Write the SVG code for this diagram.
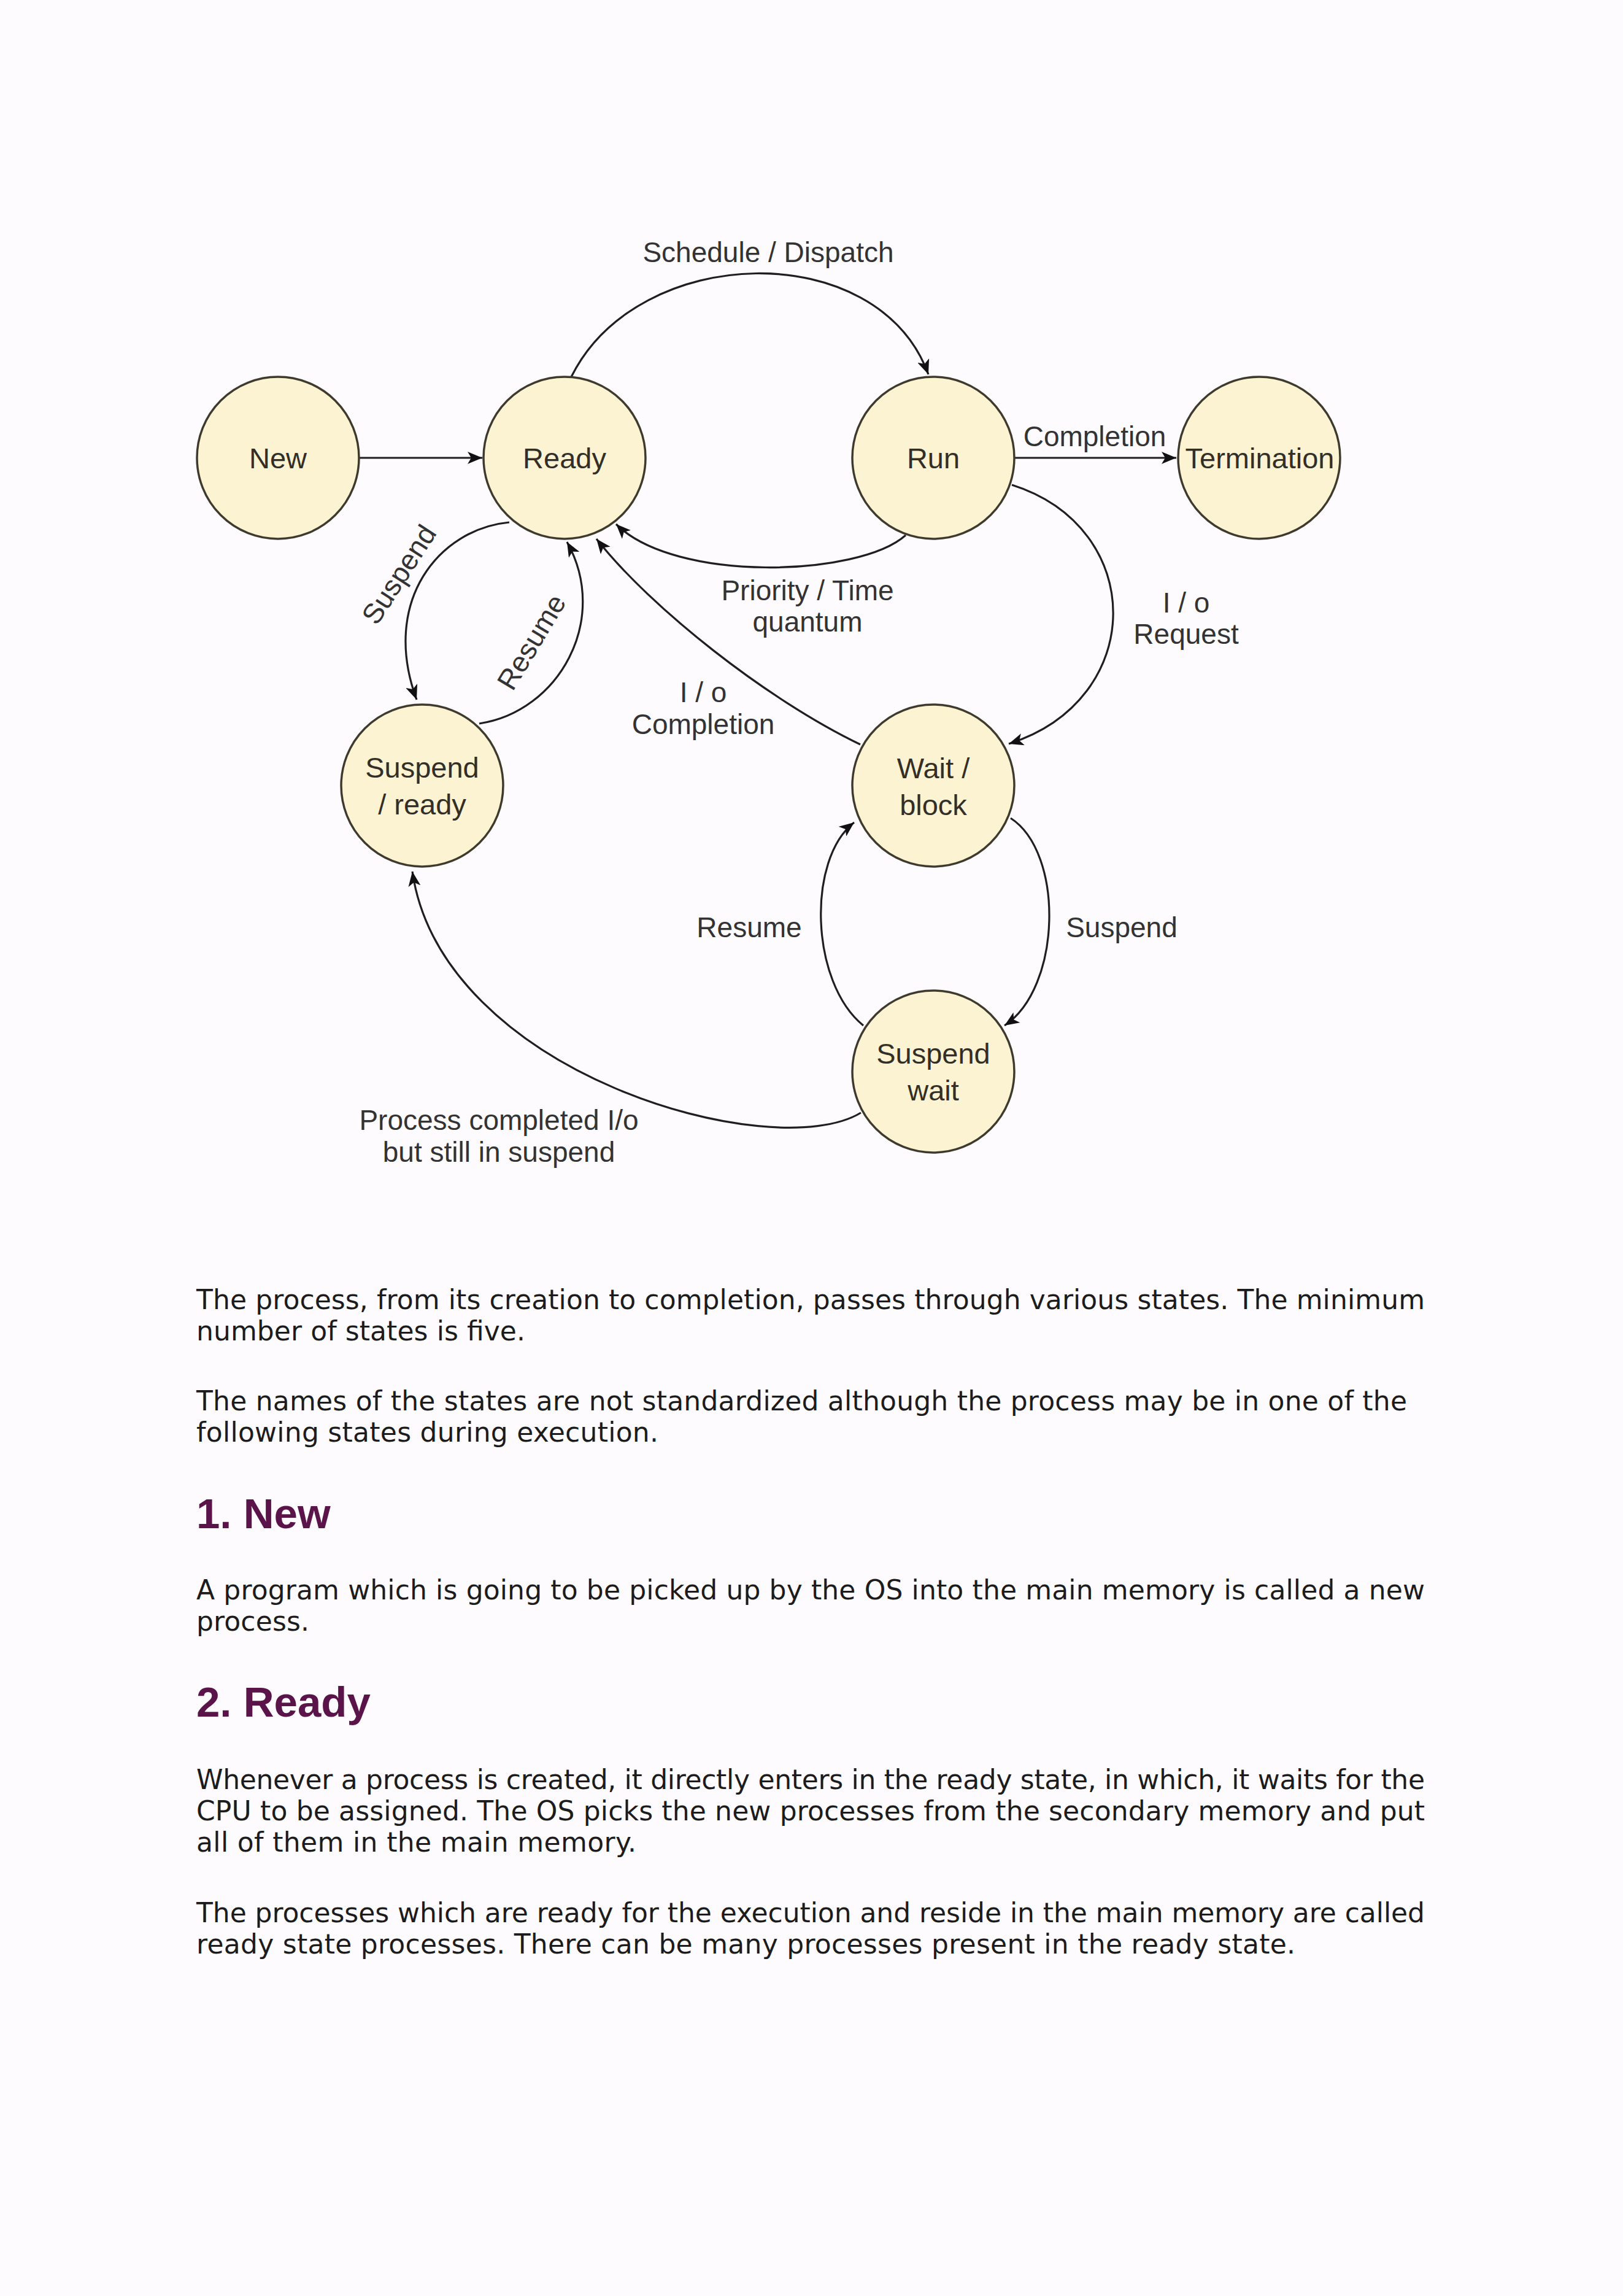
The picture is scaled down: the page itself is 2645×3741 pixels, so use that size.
<svg xmlns="http://www.w3.org/2000/svg" width="2645" height="3741" viewBox="0 0 2645 3741">
<style>
.node circle{fill:#fcf3d3;stroke:#3f3a2e;stroke-width:3.5}
.nt{font-family:"Liberation Sans",Arial,sans-serif;font-size:47px;fill:#332f26;text-anchor:middle}
.edge{fill:none;stroke:#1f1f1f;stroke-width:3.2}
.lbl{font-family:"Liberation Sans",Arial,sans-serif;font-size:46px;fill:#333;text-anchor:middle}
.p{font-family:"DejaVu Sans",Verdana,sans-serif;font-size:44px;fill:#1c1c1c}
.h{font-family:"Liberation Sans",Arial,sans-serif;font-size:69px;font-weight:bold;fill:#5a1449}
</style>
<defs>
<marker id="arr" markerUnits="userSpaceOnUse" markerWidth="26" markerHeight="20" viewBox="0 0 26 20" refX="24" refY="10" orient="auto">
<path d="M0,0 L24,10 L0,20 L6,10 z" fill="#111"/>
</marker>
</defs>
<rect x="0" y="0" width="2645" height="3741" fill="#fefbfe"/>

<g id="connectors">
<path class="edge" d="M586 746 L786 746" marker-end="url(#arr)"/>
<path class="edge" d="M931 614 C1040 395 1430 385 1513 610" marker-end="url(#arr)"/>
<path class="edge" d="M1653 746 L1917 746" marker-end="url(#arr)"/>
<path class="edge" d="M1476 872 C1400 940 1100 950 1004 854" marker-end="url(#arr)"/>
<path class="edge" d="M1649 790 C1870 860 1870 1140 1644 1212" marker-end="url(#arr)"/>
<path class="edge" d="M830 851 C715 862 620 980 679 1140" marker-end="url(#arr)"/>
<path class="edge" d="M781 1179 C910 1160 995 1010 924 883" marker-end="url(#arr)"/>
<path class="edge" d="M1402 1213 C1250 1140 1060 990 972 878" marker-end="url(#arr)"/>
<path class="edge" d="M1647 1333 C1735 1390 1730 1610 1637 1671" marker-end="url(#arr)"/>
<path class="edge" d="M1407 1671 C1320 1600 1315 1400 1392 1340" marker-end="url(#arr)"/>
<path class="edge" d="M1403 1813 C1260 1900 720 1750 672 1420" marker-end="url(#arr)"/>
</g>

<g id="edge-labels">
<text class="lbl" x="1252" y="427">Schedule / Dispatch</text>
<text class="lbl" x="1784" y="727">Completion</text>
<text class="lbl" x="1316" y="978">Priority / Time</text>
<text class="lbl" x="1316" y="1029">quantum</text>
<text class="lbl" x="1933" y="998">I / o</text>
<text class="lbl" x="1933" y="1049">Request</text>
<text class="lbl" x="1146" y="1144">I / o</text>
<text class="lbl" x="1146" y="1196">Completion</text>
<text class="lbl" x="1221" y="1527">Resume</text>
<text class="lbl" x="1828" y="1527">Suspend</text>
<text class="lbl" x="813" y="1841">Process completed I/o</text>
<text class="lbl" x="813" y="1893">but still in suspend</text>
<text class="lbl" transform="translate(650 936) rotate(-57)" x="0" y="16">Suspend</text>
<text class="lbl" transform="translate(866 1046) rotate(-59)" x="0" y="16">Resume</text>
</g>

<g id="node-new" class="node"><circle cx="453" cy="746" r="132"/><text class="nt" x="453" y="763">New</text></g>
<g id="node-ready" class="node"><circle cx="920" cy="746" r="132"/><text class="nt" x="920" y="763">Ready</text></g>
<g id="node-run" class="node"><circle cx="1521" cy="746" r="132"/><text class="nt" x="1521" y="763">Run</text></g>
<g id="node-termination" class="node"><circle cx="2052" cy="746" r="132"/><text class="nt" x="2053" y="763">Termination</text></g>
<g id="node-suspend-ready" class="node"><circle cx="688" cy="1280" r="132"/><text class="nt" x="688" y="1267">Suspend</text><text class="nt" x="688" y="1327">/ ready</text></g>
<g id="node-wait-block" class="node"><circle cx="1521" cy="1280" r="132"/><text class="nt" x="1521" y="1268">Wait /</text><text class="nt" x="1521" y="1328">block</text></g>
<g id="node-suspend-wait" class="node"><circle cx="1521" cy="1746" r="132"/><text class="nt" x="1521" y="1733">Suspend</text><text class="nt" x="1521" y="1793">wait</text></g>

<g id="article">
<text class="p" x="320" y="2133" textLength="2002" lengthAdjust="spacing">The process, from its creation to completion, passes through various states. The minimum</text>
<text class="p" x="320" y="2184" textLength="536" lengthAdjust="spacing">number of states is five.</text>
<text class="p" x="320" y="2298" textLength="1973" lengthAdjust="spacing">The names of the states are not standardized although the process may be in one of the</text>
<text class="p" x="320" y="2349" textLength="753" lengthAdjust="spacing">following states during execution.</text>
<text class="h" x="320" y="2490">1. New</text>
<text class="p" x="320" y="2606" textLength="2002" lengthAdjust="spacing">A program which is going to be picked up by the OS into the main memory is called a new</text>
<text class="p" x="320" y="2657" textLength="184" lengthAdjust="spacing">process.</text>
<text class="h" x="320" y="2797">2. Ready</text>
<text class="p" x="320" y="2915" textLength="2002" lengthAdjust="spacing">Whenever a process is created, it directly enters in the ready state, in which, it waits for the</text>
<text class="p" x="320" y="2966" textLength="2002" lengthAdjust="spacing">CPU to be assigned. The OS picks the new processes from the secondary memory and put</text>
<text class="p" x="320" y="3017" textLength="717" lengthAdjust="spacing">all of them in the main memory.</text>
<text class="p" x="320" y="3132" textLength="2002" lengthAdjust="spacing">The processes which are ready for the execution and reside in the main memory are called</text>
<text class="p" x="320" y="3183" textLength="1791" lengthAdjust="spacing">ready state processes. There can be many processes present in the ready state.</text>
</g>
</svg>
